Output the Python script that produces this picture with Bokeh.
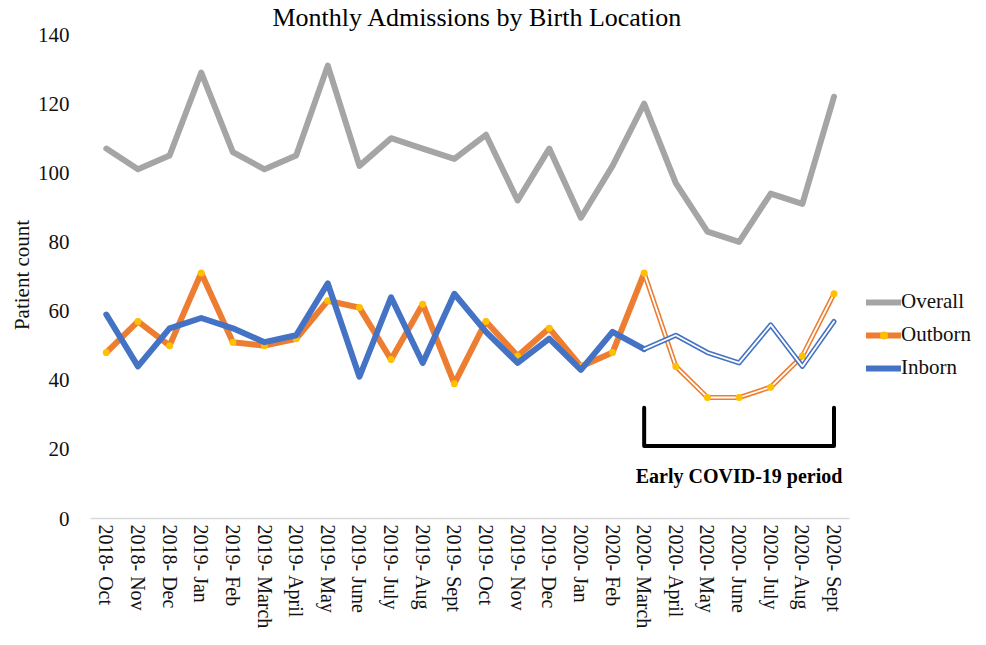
from bokeh.plotting import figure
from bokeh.models import Range1d, FixedTicker, Legend, LegendItem, Label
from bokeh.embed import file_html
from bokeh.resources import INLINE

# ---------------- data ----------------
months = ["2018- Oct", "2018- Nov", "2018- Dec", "2019- Jan", "2019- Feb",
          "2019- March", "2019- April", "2019- May", "2019- June", "2019- July",
          "2019- Aug", "2019- Sept", "2019- Oct", "2019- Nov", "2019- Dec",
          "2020- Jan", "2020- Feb", "2020- March", "2020- April", "2020- May",
          "2020- June", "2020- July", "2020- Aug", "2020- Sept"]
overall = [107, 101, 105, 129, 106, 101, 105, 131, 102, 110, 107, 104,
           111, 92, 107, 87, 102, 120, 97, 83, 80, 94, 91, 122]
outborn = [48, 57, 50, 71, 51, 50, 52, 63, 61, 46, 62, 39,
           57, 47, 55, 44, 48, 71, 44, 35, 35, 38, 47, 65]
inborn = [59, 44, 55, 58, 55, 51, 53, 68, 41, 64, 45, 65,
          54, 45, 52, 43, 54, 49, 53, 48, 45, 56, 44, 57]
y_ticks = [0, 20, 40, 60, 80, 100, 120, 140]

covid_start = "2020- March"
covid_end = "2020- Sept"
covid_label = "Early COVID-19 period"
covid_label_at = "2020- June"
bracket_top = 32
bracket_bottom = 21
covid_label_y = 12.4

title_text = "Monthly Admissions by Birth Location"

# ---------------- styles ----------------
GRAY = "#A5A5A5"
ORANGE = "#ED7D31"
BLUE = "#4472C4"
GOLD = "#FFC000"
FONT = "Liberation Serif"

xs = list(range(len(months)))
split = months.index(covid_start)
i_end = months.index(covid_end)
i_lab = months.index(covid_label_at)

p = figure(x_range=Range1d(-0.5, 27.82), y_range=Range1d(0, 140.87),
           width=986, height=645, output_backend="svg", toolbar_location=None,
           min_border_left=90, min_border_right=0, min_border_top=0,
           min_border_bottom=127)
p.outline_line_color = None
p.grid.visible = False

# title
p.title.text = title_text
p.title.text_font = FONT
p.title.text_font_size = "26px"
p.title.text_font_style = "normal"
p.title.text_color = "black"
p.title.align = "left"
p.title.offset = 182
p.title.standoff = 0

# axes
p.yaxis.ticker = FixedTicker(ticks=y_ticks)
p.yaxis.axis_line_color = None
p.yaxis.major_tick_line_color = None
p.yaxis.minor_tick_line_color = None
p.yaxis.major_label_standoff = 15
p.yaxis.major_label_text_font = FONT
p.yaxis.major_label_text_font_size = "21px"
p.yaxis.major_label_text_color = "#111111"
p.yaxis.axis_label = "Patient count"
p.yaxis.axis_label_text_font = FONT
p.yaxis.axis_label_text_font_size = "21px"
p.yaxis.axis_label_text_font_style = "normal"
p.yaxis.axis_label_text_color = "#111111"
p.yaxis.axis_label_standoff = 1

p.xaxis.ticker = FixedTicker(ticks=xs)
p.xaxis.major_label_overrides = {i: m for i, m in enumerate(months)}
p.xaxis.bounds = (-0.5, len(months) - 0.5)
p.xaxis.axis_line_color = "#D9D9D9"
p.xaxis.axis_line_width = 1.5
p.xaxis.major_tick_line_color = None
p.xaxis.minor_tick_line_color = None
p.xaxis.major_label_orientation = "vertical"
p.xaxis.major_label_standoff = 0
p.xaxis.major_label_text_font = FONT
p.xaxis.major_label_text_font_size = "20px"
p.xaxis.major_label_text_color = "#111111"

# overall
r_overall = p.line(xs, overall, line_color=GRAY, line_width=6,
                   line_join="round", line_cap="round")

# outborn: solid before COVID, hollow double line after
r_out = p.line(xs[:split + 1], outborn[:split + 1], line_color=ORANGE,
               line_width=6, line_join="round", line_cap="round")
p.line(xs[split:], outborn[split:], line_color=ORANGE, line_width=5,
       line_join="round", line_cap="round")
p.line(xs[split:], outborn[split:], line_color="white", line_width=1.8,
       line_join="round", line_cap="round")
r_out_m = p.scatter(xs, outborn, size=7, fill_color=GOLD, line_color=None)

# inborn
r_in = p.line(xs[:split + 1], inborn[:split + 1], line_color=BLUE,
              line_width=6, line_join="round", line_cap="round")
p.line(xs[split:], inborn[split:], line_color=BLUE, line_width=5,
       line_join="round", line_cap="round")
p.line(xs[split:], inborn[split:], line_color="white", line_width=1.8,
       line_join="round", line_cap="round")

# bracket + label
p.line([split, split, i_end, i_end],
       [bracket_top, bracket_bottom, bracket_bottom, bracket_top],
       line_color="black", line_width=4, line_join="round", line_cap="round")
p.add_layout(Label(x=i_lab, y=covid_label_y, text=covid_label, text_font=FONT,
                   text_font_style="bold", text_font_size="20px",
                   text_align="center", text_baseline="middle",
                   text_color="black"))

# legend
legend = Legend(items=[LegendItem(label="Overall", renderers=[r_overall]),
                       LegendItem(label="Outborn", renderers=[r_out, r_out_m]),
                       LegendItem(label="Inborn", renderers=[r_in])],
                location=(776, 138), orientation="vertical",
                glyph_width=35, glyph_height=20, label_height=20,
                label_standoff=0, spacing=8, padding=0, margin=0,
                border_line_color=None, background_fill_alpha=0,
                label_text_font=FONT, label_text_font_size="21px",
                label_text_color="#111111")
p.add_layout(legend, "center")

open("out.html", "w").write(file_html(p, INLINE))
